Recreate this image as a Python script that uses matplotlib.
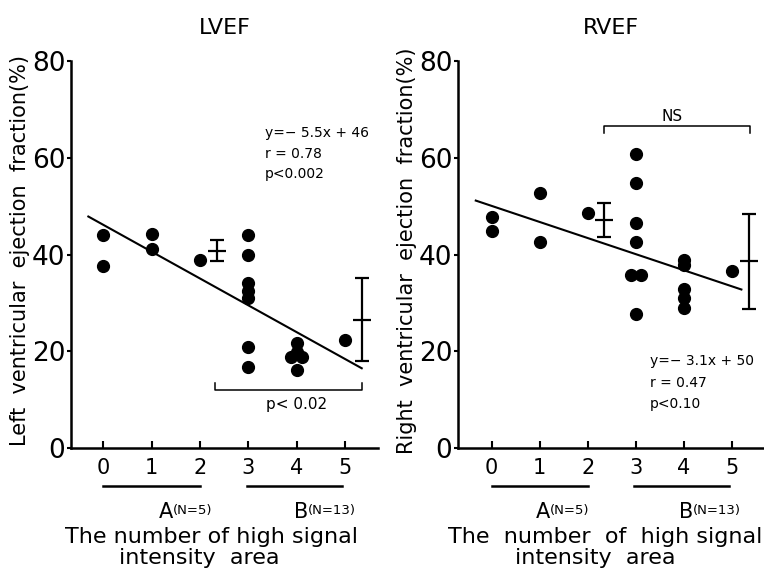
import numpy as np
import matplotlib.pyplot as plt

# ---------------- data
x_groups = [0, 0, 1, 1, 2, 3, 3, 3, 3, 3, 3, 3, 4, 4, 4, 4, 4, 5]

lv_dx = [0, 0, 0, 0, 0, 0, 0, 0, 0, 0, 0, 0, 0, 0, -0.12, 0.12, 0, 0]
lv_y = [44.1, 37.7, 44.3, 41.2, 38.8,
        44.1, 39.9, 34.1, 32.5, 31.0, 21.0, 16.8,
        21.7, 19.9, 18.9, 18.9, 16.1, 22.3]

rv_dx = [0, 0, 0, 0, 0, 0, 0, 0, 0, -0.1, 0.1, 0, 0, 0, 0, 0, 0, 0]
rv_y = [47.9, 44.9, 52.7, 42.6, 48.7,
        60.8, 54.9, 46.6, 42.6, 35.8, 35.8, 27.7,
        39.0, 37.9, 32.8, 31.0, 28.9, 36.6]

# group mean +- SD (A, B)
lv_mean = [40.8, 26.5]
lv_sd = [2.2, 8.6]
rv_mean = [47.2, 38.6]
rv_sd = [3.6, 9.8]

# regression lines (end points)
lv_fit_x = [-0.31, 5.35]
lv_fit_y = [47.9, 16.5]
rv_fit_x = [-0.33, 5.2]
rv_fit_y = [51.2, 32.8]

lv_stats = ["y=\u2212 5.5x + 46", "r = 0.78", "p<0.002"]
rv_stats = ["y=\u2212 3.1x + 50", "r = 0.47", "p<0.10"]

ticks = [0, 1, 2, 3, 4, 5]
yticks = [0, 20, 40, 60, 80]

# ---------------
fig = plt.figure(figsize=(7.64, 5.8), dpi=100)
ax1 = fig.add_axes([71/764, 132/580, 307/764, 386.6/580])
ax2 = fig.add_axes([458/764, 132/580, 305/764, 386.6/580])


def base(ax, xlim, title, ylabel):
    ax.set_xlim(xlim)
    ax.set_ylim(0, 80)
    for s in ['top', 'right']:
        ax.spines[s].set_visible(False)
    for s in ['left', 'bottom']:
        ax.spines[s].set_linewidth(1.8)
    ax.set_xticks(ticks)
    ax.set_yticks(yticks)
    ax.tick_params(axis='x', direction='in', length=5, width=1.5,
                   labelsize=15, pad=7)
    ax.tick_params(axis='y', direction='out', length=3, width=1.5,
                   labelsize=19, pad=1)
    ax.set_title(title, fontsize=16, pad=20)
    ax.set_ylabel(ylabel, fontsize=15)
    ax.yaxis.set_label_coords(-0.134, 0.51)


base(ax1, (-0.669, 5.687), "LVEF",
     "Left  ventricular  ejection  fraction(%)")
base(ax2, (-0.70, 5.65), "RVEF",
     "Right  ventricular  ejection  fraction(%)")


def panel(ax, dx, y, mean, sd, fit_x, fit_y):
    xs = np.array(x_groups) + np.array(dx)
    ax.plot(xs, y, 'o', color='k', ms=8.5, clip_on=False)
    ax.plot(fit_x, fit_y, color='k', lw=1.5)
    ax.errorbar([2.35, 5.35], mean, yerr=sd, fmt='_', color='k',
                ms=13, mew=1.6, elinewidth=1.6, capsize=5, capthick=1.6)


panel(ax1, lv_dx, lv_y, lv_mean, lv_sd, lv_fit_x, lv_fit_y)
panel(ax2, rv_dx, rv_y, rv_mean, rv_sd, rv_fit_x, rv_fit_y)

# stats text
for t, yy in zip(lv_stats, [65.1, 60.8, 56.7]):
    ax1.text(3.35, yy, t, fontsize=10, va='center', ha='left')
for t, yy in zip(rv_stats, [17.9, 13.4, 9.2]):
    ax2.text(3.30, yy, t, fontsize=10, va='center', ha='left')

# brackets
ax1.plot([2.31, 2.31, 5.35, 5.35], [13.4, 12.0, 12.0, 13.4], color='k', lw=1.1)
ax1.text(4.0, 8.9, "p< 0.02", fontsize=11, ha='center', va='center')
ax2.plot([2.33, 2.33, 5.37, 5.37], [65.1, 66.6, 66.6, 65.1], color='k', lw=1.1)
ax2.text(3.75, 68.5, "NS", fontsize=11, ha='center', va='center')

# group underlines and labels below the axis
for ax, bx, ax_ in [(ax1, 4.24, 1.44), (ax2, 4.2, 1.21)]:
    ax.plot([0, 2], [-7.9, -7.9], color='k', lw=1.8, clip_on=False)
    ax.plot([2.97, 4.95], [-7.9, -7.9], color='k', lw=1.8, clip_on=False)
    ax.text(ax_, -13.2, "A", fontsize=15, ha='right', va='center')
    ax.text(ax_, -13.0, "(N=5)", fontsize=9.5, ha='left', va='center')
    ax.text(bx, -13.2, "B", fontsize=15, ha='right', va='center')
    ax.text(bx, -13.0, "(N=13)", fontsize=9.5, ha='left', va='center')

ax1.text(2.25, -18.4, "The number of high signal", fontsize=16,
         ha='center', va='center')
ax1.text(1.98, -22.8, "intensity  area", fontsize=16, ha='center', va='center')
ax2.text(2.36, -18.4, "The  number  of  high signal", fontsize=16,
         ha='center', va='center')
ax2.text(2.15, -22.8, "intensity  area", fontsize=16, ha='center', va='center')

fig.savefig("out.png", dpi=100)
